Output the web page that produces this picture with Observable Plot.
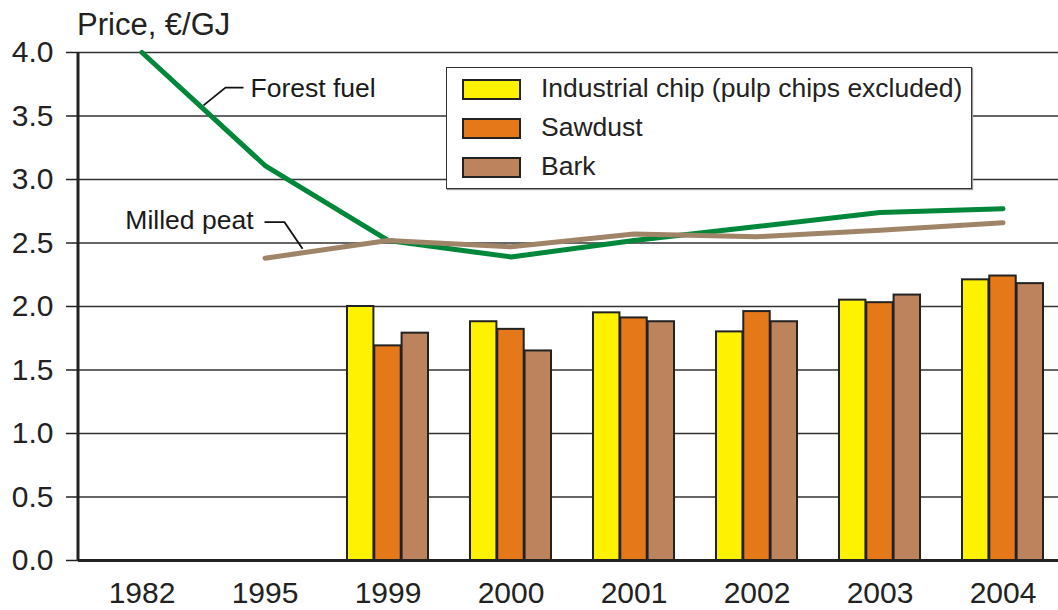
<!DOCTYPE html>
<html>
<head>
<meta charset="utf-8">
<script src="https://cdn.jsdelivr.net/npm/d3@7"></script>
<script src="https://cdn.jsdelivr.net/npm/@observablehq/plot@0.6"></script>
<style>
  html, body { margin: 0; padding: 0; background: #fff; }
  #wrap { position: relative; width: 1058px; height: 610px; font-family: "Liberation Sans", Arial, sans-serif; color: #222; }
  #title { position: absolute; left: 77px; top: 9px; font-size: 31px; line-height: 31px; white-space: nowrap; }
  #legend { position: absolute; left: 446px; top: 67px; width: 524px; height: 120px; background: #fff; border: 1.5px solid #333; box-shadow: 1px 1px 1px #999; }
  .row { position: absolute; left: 15px; height: 20px; }
  .sw { position: absolute; left: 0; top: 0; width: 55px; height: 17px; border: 2px solid #222; }
  .lab { position: absolute; left: 79px; top: -6px; font-size: 26.5px; line-height: 30px; white-space: nowrap; }
</style>
</head>
<body>
<div id="wrap">
  <div id="chart"></div>
  <div id="title"></div>
  <div id="legend"></div>
</div>
<script>
const years = ["1982", "1995", "1999", "2000", "2001", "2002", "2003", "2004"];
const barYears = ["1999", "2000", "2001", "2002", "2003", "2004"];
const industrialChip = [2.00, 1.88, 1.95, 1.80, 2.05, 2.21];
const sawdust = [1.69, 1.82, 1.91, 1.96, 2.03, 2.24];
const bark = [1.79, 1.65, 1.88, 1.88, 2.09, 2.18];
const forestFuel = [4.00, 3.11, 2.52, 2.39, 2.52, 2.63, 2.74, 2.77];
const milledPeat = [null, 2.38, 2.52, 2.47, 2.57, 2.55, 2.60, 2.66];
const yTicks = [0, 0.5, 1.0, 1.5, 2.0, 2.5, 3.0, 3.5, 4.0];
const seriesNames = ["Industrial chip (pulp chips excluded)", "Sawdust", "Bark"];
const seriesColors = ["#fff200", "#e57818", "#bd835d"];
const titleText = "Price, \u20ac/GJ";
const lineLabels = ["Forest fuel", "Milled peat"];

const seriesValues = [industrialChip, sawdust, bark];
const barData = seriesValues.flatMap((vals, s) => barYears.map((yr, i) => ({year: yr, value: vals[i], series: seriesNames[s]})));
const forestData = years.map((yr, i) => ({year: yr, value: forestFuel[i]}));
const peatData = years.map((yr, i) => ({year: yr, value: milledPeat[i]})).filter(d => d.value != null);

const xRange = [76, 1067];
const step = (xRange[1] - xRange[0]) / years.length;
const barW = 27.3;
const inset = (step - barW) / 2;

const barMarks = seriesNames.map((name, s) => Plot.barY(barData.filter(d => d.series === name), {
  x: "year", y: "value", fill: seriesColors[s], stroke: "#222", strokeWidth: 2,
  insetLeft: inset, insetRight: inset, dx: (s - 1) * barW
}));

// annotations: leader points as [band, pixel offset, value]
const annotations = [
  {label: lineLabels[0], anchor: "start", text: ["1982", 109, 3.72], path: [["1982", 62, 3.58], ["1982", 84, 3.72], ["1982", 102, 3.72]]},
  {label: lineLabels[1], anchor: "end", text: ["1995", -11, 2.68], path: [["1995", 0, 2.66], ["1995", 20, 2.66], ["1995", 38, 2.45]]}
];

function frameAndNotes(index, scales, values, dimensions) {
  const g = d3.create("svg:g");
  const x = scales.x, y = scales.y;
  const bw = x.bandwidth ? x.bandwidth() : 0;
  const px = (p) => x(p[0]) + bw / 2 + p[1];
  g.append("line")
    .attr("x1", dimensions.marginLeft).attr("x2", dimensions.marginLeft)
    .attr("y1", y(0)).attr("y2", y(4))
    .attr("stroke", "#222").attr("stroke-width", 3);
  for (const a of annotations) {
    g.append("path")
      .attr("d", d3.line()(a.path.map(p => [px(p), y(p[2])])))
      .attr("fill", "none").attr("stroke", "#111").attr("stroke-width", 1.8);
    g.append("text")
      .attr("x", px(a.text)).attr("y", y(a.text[2]))
      .attr("dy", "0.35em")
      .attr("text-anchor", a.anchor)
      .attr("font-size", 26.5)
      .attr("fill", "#1a1a1a")
      .text(a.label);
  }
  return g.node();
}

const chart = Plot.plot({
  width: 1058,
  height: 610,
  marginLeft: 78,
  marginRight: 0,
  marginTop: 52,
  marginBottom: 50,
  style: {fontFamily: "Liberation Sans, Arial, sans-serif", color: "#222", background: "#fff"},
  x: {domain: years, range: xRange, padding: 0},
  y: {domain: [0, 4]},
  marks: [
    Plot.gridY(yTicks, {stroke: "#333", strokeOpacity: 1, strokeWidth: 1.5}),
    ...barMarks,
    Plot.ruleY([0], {stroke: "#222", strokeWidth: 3}),
    Plot.axisY(yTicks, {tickSize: 12, tickPadding: 13, fontSize: 30, tickFormat: d => d.toFixed(1), label: null, stroke: "#222", strokeWidth: 1.5}),
    Plot.axisX({tickSize: 0, tickPadding: 21, fontSize: 30, label: null}),
    Plot.line(forestData, {x: "year", y: "value", stroke: "#00873a", strokeWidth: 5}),
    Plot.line(peatData, {x: "year", y: "value", stroke: "#a08468", strokeWidth: 5}),
    frameAndNotes
  ]
});
document.getElementById("chart").appendChild(chart);
document.getElementById("title").textContent = titleText;

const legend = document.getElementById("legend");
const rowTops = [11, 50, 89];
seriesNames.forEach((name, i) => {
  const row = document.createElement("div");
  row.className = "row";
  row.style.top = rowTops[i] + "px";
  const sw = document.createElement("div");
  sw.className = "sw";
  sw.style.background = seriesColors[i];
  const lab = document.createElement("div");
  lab.className = "lab";
  lab.textContent = name;
  row.appendChild(sw); row.appendChild(lab);
  legend.appendChild(row);
});
</script>
</body>
</html>
